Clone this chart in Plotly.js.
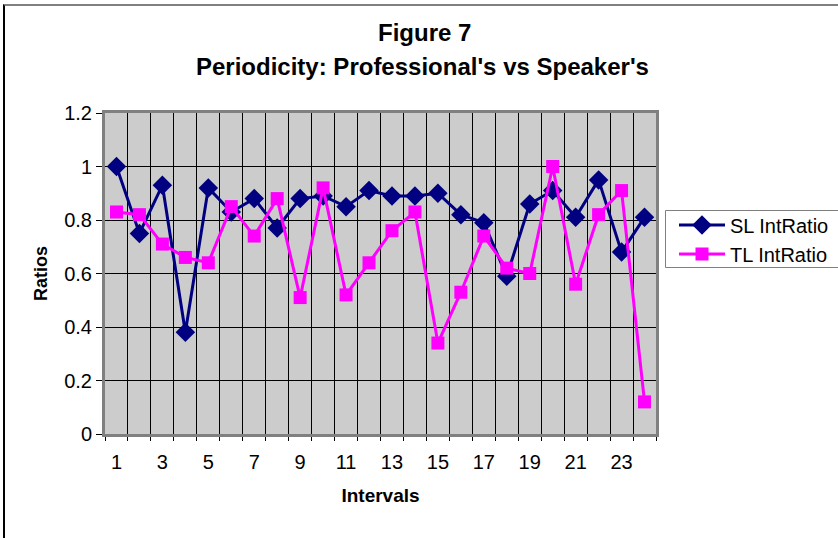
<!DOCTYPE html>
<html>
<head>
<meta charset="utf-8">
<script src="https://cdn.plot.ly/plotly-3.0.1.min.js"></script>
<style>
  html, body { margin: 0; padding: 0; background: #fff; overflow: hidden; }
  #wrap { position: relative; width: 838px; height: 538px; }
  #chart { position: absolute; left: 0; top: 0; width: 838px; height: 538px; }
  #frame { position: absolute; left: 3px; top: 4px; width: 900px; height: 600px;
           border-left: 2px solid #000; border-top: 2px solid #808080; pointer-events: none; }
</style>
</head>
<body>
<div id="wrap">
  <div id="chart"></div>
  <div id="frame"></div>
</div>
<script>
const intervals = [1,2,3,4,5,6,7,8,9,10,11,12,13,14,15,16,17,18,19,20,21,22,23,24];
const slIntRatio = [1.00,0.75,0.93,0.38,0.92,0.83,0.88,0.77,0.88,0.89,0.85,0.91,0.89,0.89,0.90,0.82,0.79,0.59,0.86,0.91,0.81,0.95,0.68,0.81];
const tlIntRatio = [0.83,0.82,0.71,0.66,0.64,0.85,0.74,0.88,0.51,0.92,0.52,0.64,0.76,0.83,0.34,0.53,0.74,0.62,0.60,1.00,0.56,0.82,0.91,0.12];
const xTickVals = [1,3,5,7,9,11,13,15,17,19,21,23];
const yTickVals = [0,0.2,0.4,0.6,0.8,1,1.2];

const FONT = 'Liberation Sans, Arial, sans-serif';
// plot area in pixels: left 105, right 656, top 113, bottom 434
const px = v => (v - 105) / 551;
const py = v => (434 - v) / 321;

const traces = [
  {
    x: intervals, y: slIntRatio, name: 'SL IntRatio', type: 'scatter', mode: 'lines+markers',
    line: {color: '#000080', width: 3},
    marker: {symbol: 'diamond', size: 15, color: '#000080'}
  },
  {
    x: intervals, y: tlIntRatio, name: 'TL IntRatio', type: 'scatter', mode: 'lines+markers',
    line: {color: '#ff00ff', width: 3},
    marker: {symbol: 'square', size: 13, color: '#ff00ff'}
  }
];

const layout = {
  width: 838, height: 538,
  margin: {l: 105, r: 182, t: 113, b: 104, pad: 0, autoexpand: false},
  paper_bgcolor: '#ffffff',
  plot_bgcolor: '#cccccc',
  font: {family: FONT, size: 20, color: '#000'},
  showlegend: true,
  legend: {
    x: px(674), xanchor: 'left', y: py(205.5), yanchor: 'top',
    bgcolor: 'rgba(0,0,0,0)', borderwidth: 0,
    font: {family: FONT, size: 20, color: '#000'},
    itemwidth: 46, tracegroupgap: 0
  },
  shapes: [
    {type: 'rect', xref: 'paper', yref: 'paper', x0: px(665.5), x1: px(900), y0: py(210.5), y1: py(267.5),
     line: {color: '#808080', width: 1}, fillcolor: '#ffffff', layer: 'below'}
  ],
  xaxis: {
    range: [0.5, 24.5], tickvals: xTickVals, ticktext: xTickVals.map(String),
    showgrid: false, zeroline: false, ticks: '', automargin: false,
    showline: true, linecolor: '#808080', linewidth: 3, mirror: true,
    ticklabelstandoff: 8,
    tickfont: {family: FONT, size: 20},
    minor: {dtick: 1, tick0: 0.5, showgrid: true, gridcolor: '#000000', gridwidth: 1,
            ticks: 'outside', ticklen: 4, tickcolor: '#000', tickwidth: 1},
    title: {text: '<b>Intervals</b>', font: {family: FONT, size: 19}, standoff: 17}
  },
  yaxis: {
    range: [0, 1.2], tickvals: yTickVals, ticktext: ['0','0.2','0.4','0.6','0.8','1','1.2'],
    showgrid: true, gridcolor: '#000000', gridwidth: 1, zeroline: false, automargin: false,
    ticks: 'outside', ticklen: 6, tickcolor: '#000', tickwidth: 1,
    showline: true, linecolor: '#808080', linewidth: 3, mirror: true,
    ticklabelstandoff: 0,
    tickfont: {family: FONT, size: 20},
    title: {text: '<b>Ratios</b>', font: {family: FONT, size: 18}, standoff: 12}
  },
  annotations: [
    {text: '<b>Figure 7</b>', xref: 'paper', yref: 'paper', x: px(424), y: py(32),
     xanchor: 'center', yanchor: 'middle', showarrow: false, font: {family: FONT, size: 24}},
    {text: "<b>Periodicity: Professional's vs Speaker's</b>", xref: 'paper', yref: 'paper', x: px(422), y: py(66),
     xanchor: 'center', yanchor: 'middle', showarrow: false, font: {family: FONT, size: 24}}
  ]
};

Plotly.newPlot('chart', traces, layout, {displayModeBar: false, staticPlot: true});
</script>
</body>
</html>
